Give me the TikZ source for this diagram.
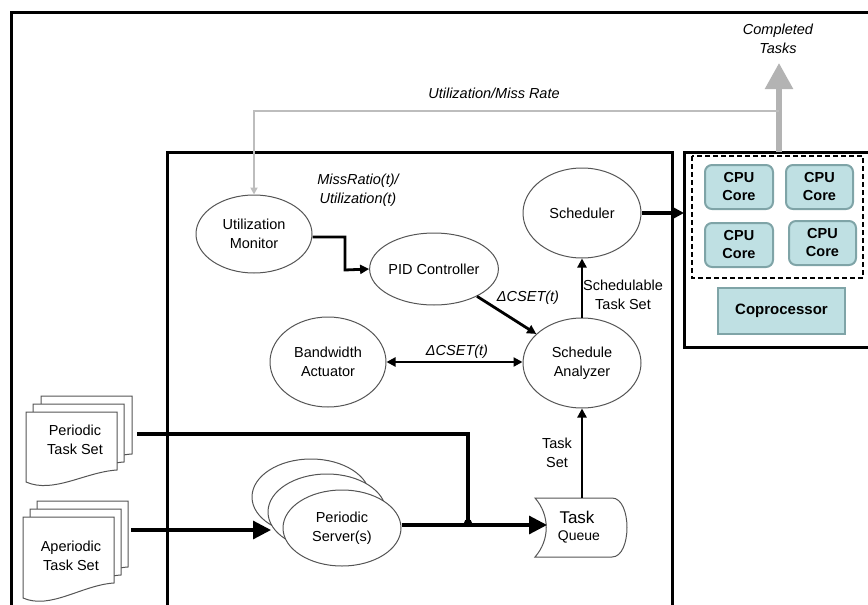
\documentclass[tikz,border=0pt]{standalone}
\usepackage{fontspec}
\setmainfont{Liberation Sans}
\usetikzlibrary{shapes.geometric,arrows.meta}
\definecolor{coreFill}{HTML}{BFE0E3}
\definecolor{coreLine}{HTML}{7FA4A7}
\definecolor{fbGrey}{HTML}{BDBDBD}
\definecolor{ctGrey}{HTML}{B3B3B3}
\definecolor{eLine}{HTML}{555555}
\newcommand\mydoc[5]{%
  \filldraw[docst] (#1,#2) -- (#3,#2) -- (#3,#5)
   .. controls ({#3-0.35*(#3-#1)},{#5+2}) and ({#1+0.3*(#3-#1)},{#4+12}) .. (#1,#4) -- cycle;}
\begin{document}
\begin{tikzpicture}[x=1pt,y=-1pt,
  txt/.style={font=\fontsize{14.5}{18.5}\selectfont,align=center,inner sep=0pt},
  lbl/.style={font=\fontsize{14.5}{18.5}\selectfont\itshape,align=center,inner sep=0pt},
  ell/.style={ellipse,draw=eLine,line width=1pt,fill=white,inner sep=0pt,align=center,
    font=\fontsize{14.5}{18.5}\selectfont},
  docst/.style={draw=eLine,fill=white,line width=1pt},
  core/.style={draw=coreLine,fill=coreFill,line width=2pt,rounded corners=7pt,
    font=\fontsize{14.5}{18}\selectfont\bfseries,align=center,inner sep=0pt},
  frame/.style={line width=3pt,black},
  conn/.style={line width=3.2pt,black},
  smallarr/.style={-{Triangle[length=9pt,width=9pt]}},
  bigarr/.style={-{Triangle[length=18pt,width=18pt]}}
]
\useasboundingbox (0,0) rectangle (868,605);
\clip (0,0) rectangle (868,605);

% frames
\draw[frame] (11,620) -- (11,12) -- (880,12);
\draw[frame] (167,620) -- (167,152) -- (672,152) -- (672,620);
\draw[frame] (880,152) -- (684,152) -- (684,347) -- (880,347);

% processor box
\draw[line width=1.6pt,dash pattern=on 5pt off 3pt] (692,156) rectangle (863,278);
\node[core,minimum width=68pt,minimum height=44pt] (c1) at (739,187) {CPU\\Core};
\node[core,minimum width=67pt,minimum height=44pt] (c2) at (819.5,187) {CPU\\Core};
\node[core,minimum width=68pt,minimum height=44pt] (c3) at (739,245) {CPU\\Core};
\node[core,minimum width=67pt,minimum height=44pt] (c4) at (822.5,243) {CPU\\Core};
\node[core,rounded corners=0pt,minimum width=127pt,minimum height=46pt,font=\fontsize{15}{18}\selectfont\bfseries] (cop) at (781.5,311) {Coprocessor};

% ellipses
\node[ell,minimum width=116pt,minimum height=78pt] (um) at (254,234) {Utilization\\Monitor};
\node[ell,minimum width=114pt,minimum height=72pt] (pid) at (434,269) {PID Controller};
\node[ell,minimum width=118pt,minimum height=90pt] (sch) at (582,213) {Scheduler};
\node[ell,minimum width=118pt,minimum height=90pt] (sa) at (582,363) {Schedule\\Analyzer};
\node[ell,minimum width=116pt,minimum height=90pt] (ba) at (328,362) {Bandwidth\\Actuator};

% periodic servers
\node[ell,minimum width=118pt,minimum height=76pt] (ps3) at (311,497) {};
\node[ell,minimum width=118pt,minimum height=76pt] (ps2) at (327,512) {};
\node[ell,minimum width=118pt,minimum height=76pt] (ps1) at (342,528) {Periodic\\Server(s)};

% task queue
\filldraw[docst] (535,498) -- (612,498) .. controls (632,498) and (632,557) .. (612,557)
  -- (535,557) .. controls (550,540) and (550,515) .. (535,498) -- cycle;
\node[minimum width=92pt,minimum height=59pt,inner sep=0pt] (tq) at (581,527.5) {};
\node[txt,font=\fontsize{17}{18}\selectfont] (tqa) at (577,517) {Task};
\node[txt,font=\fontsize{14}{16}\selectfont] (tqb) at (579,537) {Queue};
\coordinate (tqin) at (547,525);

% document stacks
\mydoc{41}{396}{132}{466}{454}
\mydoc{33}{404}{124}{474}{462}
\mydoc{26}{412}{117}{482}{470}
\node[txt] (pts) at (75,440) {Periodic\\Task Set};
\mydoc{37}{501}{128}{582}{567}
\mydoc{30}{509}{121}{590}{575}
\mydoc{23}{517}{114}{598}{583}
\node[txt] (ats) at (71,556) {Aperiodic\\Task Set};

% connectors
\coordinate (pout) at (137,434);
\coordinate (j) at (468,523);
\coordinate (aout) at (131,530);
\coordinate (ain) at (271,530);
\draw[conn] (pout) -| (j);
\fill (j) circle (4pt);
\draw[conn,bigarr] (ps1.east |- tqin) -- (tqin);
\draw[conn,bigarr] (aout) -- (ain);

\draw[conn,line width=2.8pt,smallarr] (tq.north -| sa.south) -- (sa.south);
\node[txt] (tsl) at (557,453) {Task\\Set};
\draw[conn,line width=2.8pt,smallarr] (sa.north) -- (sch.south);
\node[txt] (stl) at (623,295) {Schedulable\\Task Set};

\coordinate (rbw) at (684,213);
\draw[conn,line width=3.4pt,-{Triangle[length=10pt,width=10pt]}] (sch.east) -- (rbw);

\draw[conn,line width=2.8pt,smallarr] (pid) -- (sa);
\node[lbl] (d1) at (528,298) {ΔCSET(t)};

\draw[conn,line width=2.2pt,{Triangle[length=9pt,width=9pt]}-{Triangle[length=9pt,width=9pt]}] (ba.east) -- (ba.east -| sa.west);
\node[lbl] (d2) at (457,352) {ΔCSET(t)};

\draw[conn,line width=2.8pt,smallarr] (um.east |- 0,237) -| (345,270) -- (pid.west);
\node[lbl] (mr) at (358,190) {MissRatio(t)/\\Utilization(t)};

% feedback
\coordinate (ctout) at (779,152);
\coordinate (cttip) at (779,63);
\draw[ctGrey,line width=5.5pt,-{Triangle[length=26pt,width=27pt]}] (ctout) -- (cttip);
\node[lbl] (ctl) at (778,39) {Completed\\Tasks};
\coordinate (fbs) at (779,111);
\draw[fbGrey,line width=2pt,-{Triangle[length=7pt,width=7pt]}] (fbs) -| (um.north);
\node[lbl] (fbl) at (494,93) {Utilization/Miss Rate};
\end{tikzpicture}
\end{document}
